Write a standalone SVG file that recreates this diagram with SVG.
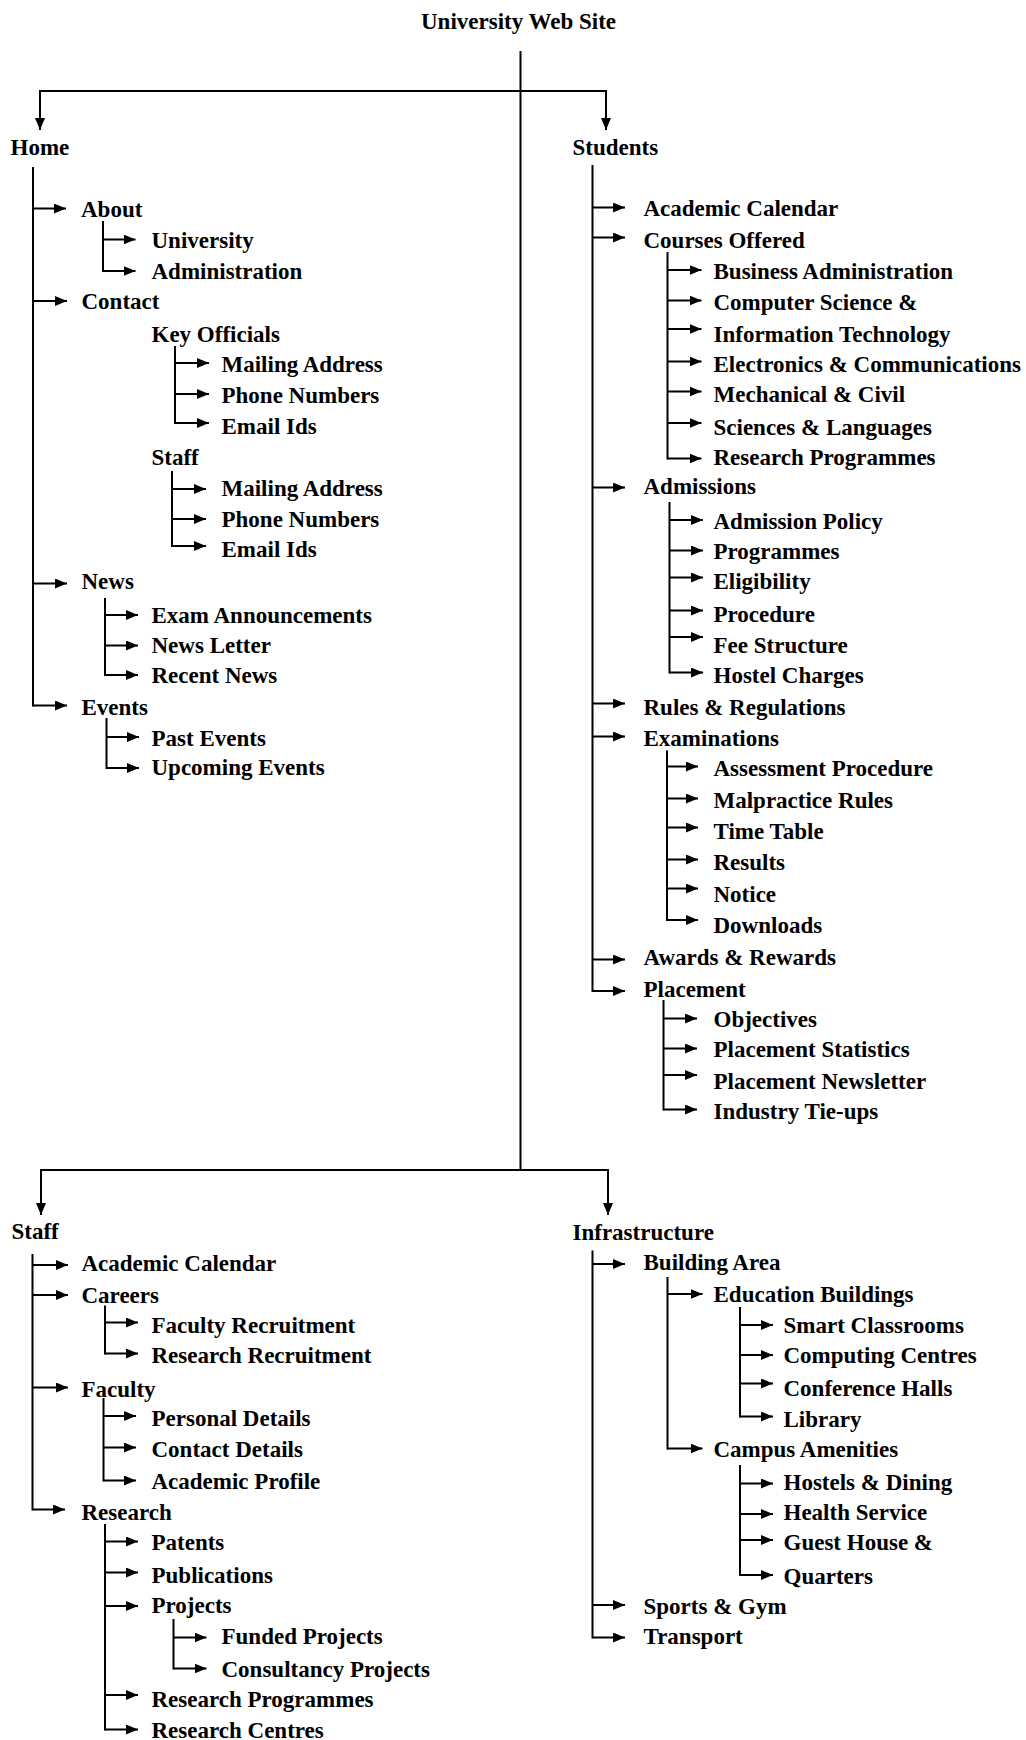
<svg xmlns="http://www.w3.org/2000/svg" width="1026" height="1740" viewBox="0 0 1026 1740">
<style>
.t{font-family:"Liberation Serif","Times New Roman",serif;font-weight:bold;font-size:23px;fill:#000}
#connectors path{stroke:#000;stroke-width:2;fill:none;stroke-linecap:square}
#connectors path.a{marker-end:url(#ah);stroke-linecap:butt}
</style>
<defs>
<marker id="ah" markerUnits="userSpaceOnUse" markerWidth="12" markerHeight="10" refX="12" refY="5" orient="auto">
<path d="M0,0 L12,5 L0,10 z" fill="#000"/>
</marker>
</defs>
<rect width="1026" height="1740" fill="#fff"/>
<g id="connectors">
<path d="M520.5 52V1170"/>
<path d="M40 91H606"/>
<path class="a" d="M40 91V130"/>
<path class="a" d="M606 91V130"/>
<path d="M41 1170H608"/>
<path class="a" d="M41 1170V1215"/>
<path class="a" d="M608 1170V1215"/>
<!-- Home -->
<path d="M33 168V705.5"/>
<path class="a" d="M33 208.5H66"/>
<path d="M103 222V271"/>
<path class="a" d="M103 239.5H135.5"/>
<path class="a" d="M103 271H135.5"/>
<path class="a" d="M33 301H67"/>
<path d="M175 347V423"/>
<path class="a" d="M175 363H209"/>
<path class="a" d="M175 394H209"/>
<path class="a" d="M175 423H209"/>
<path d="M172 472V546"/>
<path class="a" d="M172 489H206"/>
<path class="a" d="M172 519H206"/>
<path class="a" d="M172 546H206"/>
<path class="a" d="M33 583.5H67"/>
<path d="M105 599V675"/>
<path class="a" d="M105 615H138"/>
<path class="a" d="M105 645.5H138"/>
<path class="a" d="M105 675H138"/>
<path class="a" d="M33 705.5H67"/>
<path d="M106.5 719V768"/>
<path class="a" d="M106.5 737H139"/>
<path class="a" d="M106.5 768H139"/>
<!-- Students -->
<path d="M592.5 166V991"/>
<path class="a" d="M592.5 207.5H625"/>
<path class="a" d="M592.5 237.5H625"/>
<path d="M667.5 253V458.5"/>
<path class="a" d="M667.5 270H701.5"/>
<path class="a" d="M667.5 300.5H701.5"/>
<path class="a" d="M667.5 329H701.5"/>
<path class="a" d="M667.5 361.5H701.5"/>
<path class="a" d="M667.5 391.5H701.5"/>
<path class="a" d="M667.5 423H701.5"/>
<path class="a" d="M667.5 458.5H701.5"/>
<path class="a" d="M592.5 487.5H625"/>
<path d="M669.5 503V672.5"/>
<path class="a" d="M669.5 520H703"/>
<path class="a" d="M669.5 550.5H703"/>
<path class="a" d="M669.5 577.5H703"/>
<path class="a" d="M669.5 610.5H703"/>
<path class="a" d="M669.5 637H703"/>
<path class="a" d="M669.5 672.5H703"/>
<path class="a" d="M592.5 703.5H625"/>
<path class="a" d="M592.5 736.5H625"/>
<path d="M667 751.5V920"/>
<path class="a" d="M667 766.5H698"/>
<path class="a" d="M667 798.5H698"/>
<path class="a" d="M667 827.5H698"/>
<path class="a" d="M667 859.5H698"/>
<path class="a" d="M667 888.5H698"/>
<path class="a" d="M667 920H698"/>
<path class="a" d="M592.5 959.5H625"/>
<path class="a" d="M592.5 991H625"/>
<path d="M663.5 1001V1109.5"/>
<path class="a" d="M663.5 1018.5H697"/>
<path class="a" d="M663.5 1048.5H697"/>
<path class="a" d="M663.5 1075H697"/>
<path class="a" d="M663.5 1109.5H697"/>
<!-- Staff -->
<path d="M32.5 1255V1509.5"/>
<path class="a" d="M32.5 1265H68"/>
<path class="a" d="M32.5 1295H68"/>
<path d="M105 1306.5V1353.5"/>
<path class="a" d="M105 1322.5H138"/>
<path class="a" d="M105 1353.5H138"/>
<path class="a" d="M32.5 1387.5H68"/>
<path d="M103.5 1399V1480.5"/>
<path class="a" d="M103.5 1416H136"/>
<path class="a" d="M103.5 1447.5H136"/>
<path class="a" d="M103.5 1480.5H136"/>
<path class="a" d="M32.5 1509.5H65"/>
<path d="M105 1525V1729.5"/>
<path class="a" d="M105 1541.5H138"/>
<path class="a" d="M105 1572.5H138"/>
<path class="a" d="M105 1606H138"/>
<path d="M173.5 1620V1668.5"/>
<path class="a" d="M173.5 1637.5H206.5"/>
<path class="a" d="M173.5 1668.5H206.5"/>
<path class="a" d="M105 1695H138"/>
<path class="a" d="M105 1729.5H138"/>
<!-- Infrastructure -->
<path d="M592.5 1251.5V1637.5"/>
<path class="a" d="M592.5 1264H625"/>
<path d="M667.5 1278V1448.5"/>
<path class="a" d="M667.5 1294H702.5"/>
<path d="M740 1308V1416.5"/>
<path class="a" d="M740 1325H773"/>
<path class="a" d="M740 1355H773"/>
<path class="a" d="M740 1383.5H773"/>
<path class="a" d="M740 1416.5H773"/>
<path class="a" d="M667.5 1448.5H702.5"/>
<path d="M740 1466V1575"/>
<path class="a" d="M740 1483.5H773"/>
<path class="a" d="M740 1514H773"/>
<path class="a" d="M740 1540H773"/>
<path class="a" d="M740 1575H773"/>
<path class="a" d="M592.5 1605H625"/>
<path class="a" d="M592.5 1637.5H625"/>
</g>
<g id="root"><text class="t" x="421" y="29">University Web Site</text></g>
<g id="home"><text class="t" x="10.5" y="155">Home</text></g>
<g id="home-about"><text class="t" x="81" y="216.5">About</text></g>
<g id="about-university"><text class="t" x="151.5" y="248">University</text></g>
<g id="about-administration"><text class="t" x="151.5" y="278.5">Administration</text></g>
<g id="home-contact"><text class="t" x="81.5" y="309">Contact</text></g>
<g id="contact-key-officials"><text class="t" x="151.5" y="341.5">Key Officials</text></g>
<g id="ko-mailing"><text class="t" x="221.5" y="371.5">Mailing Address</text></g>
<g id="ko-phone"><text class="t" x="221.5" y="403">Phone Numbers</text></g>
<g id="ko-email"><text class="t" x="221.5" y="434">Email Ids</text></g>
<g id="contact-staff"><text class="t" x="151.5" y="465">Staff</text></g>
<g id="cs-mailing"><text class="t" x="221.5" y="496">Mailing Address</text></g>
<g id="cs-phone"><text class="t" x="221.5" y="527">Phone Numbers</text></g>
<g id="cs-email"><text class="t" x="221.5" y="557">Email Ids</text></g>
<g id="home-news"><text class="t" x="81.5" y="589">News</text></g>
<g id="news-exam"><text class="t" x="151.5" y="622.5">Exam Announcements</text></g>
<g id="news-letter"><text class="t" x="151.5" y="652.5">News Letter</text></g>
<g id="news-recent"><text class="t" x="151.5" y="682.5">Recent News</text></g>
<g id="home-events"><text class="t" x="81.5" y="715">Events</text></g>
<g id="events-past"><text class="t" x="151.5" y="746">Past Events</text></g>
<g id="events-upcoming"><text class="t" x="151.5" y="775">Upcoming Events</text></g>
<g id="students"><text class="t" x="572.5" y="155">Students</text></g>
<g id="st-calendar"><text class="t" x="643.5" y="216">Academic Calendar</text></g>
<g id="st-courses"><text class="t" x="643.5" y="248">Courses Offered</text></g>
<g id="co-business"><text class="t" x="713.5" y="279">Business Administration</text></g>
<g id="co-cs"><text class="t" x="713.5" y="309.5">Computer Science &amp;</text></g>
<g id="co-it"><text class="t" x="713.5" y="341.5">Information Technology</text></g>
<g id="co-ec"><text class="t" x="713.5" y="371.5">Electronics &amp; Communications</text></g>
<g id="co-mech"><text class="t" x="713.5" y="401.5">Mechanical &amp; Civil</text></g>
<g id="co-sci"><text class="t" x="713.5" y="435">Sciences &amp; Languages</text></g>
<g id="co-research"><text class="t" x="713.5" y="465">Research Programmes</text></g>
<g id="st-admissions"><text class="t" x="643.5" y="494">Admissions</text></g>
<g id="ad-policy"><text class="t" x="713.5" y="528.5">Admission Policy</text></g>
<g id="ad-programmes"><text class="t" x="713.5" y="558.5">Programmes</text></g>
<g id="ad-eligibility"><text class="t" x="713.5" y="589">Eligibility</text></g>
<g id="ad-procedure"><text class="t" x="713.5" y="621.5">Procedure</text></g>
<g id="ad-fee"><text class="t" x="713.5" y="652.5">Fee Structure</text></g>
<g id="ad-hostel"><text class="t" x="713.5" y="682.5">Hostel Charges</text></g>
<g id="st-rules"><text class="t" x="643.5" y="715">Rules &amp; Regulations</text></g>
<g id="st-exams"><text class="t" x="643.5" y="746">Examinations</text></g>
<g id="ex-assessment"><text class="t" x="713.5" y="776">Assessment Procedure</text></g>
<g id="ex-malpractice"><text class="t" x="713.5" y="808">Malpractice Rules</text></g>
<g id="ex-timetable"><text class="t" x="713.5" y="839">Time Table</text></g>
<g id="ex-results"><text class="t" x="713.5" y="869.5">Results</text></g>
<g id="ex-notice"><text class="t" x="713.5" y="901.5">Notice</text></g>
<g id="ex-downloads"><text class="t" x="713.5" y="932.5">Downloads</text></g>
<g id="st-awards"><text class="t" x="643.5" y="965">Awards &amp; Rewards</text></g>
<g id="st-placement"><text class="t" x="643.5" y="996.5">Placement</text></g>
<g id="pl-objectives"><text class="t" x="713.5" y="1026.5">Objectives</text></g>
<g id="pl-statistics"><text class="t" x="713.5" y="1056.5">Placement Statistics</text></g>
<g id="pl-newsletter"><text class="t" x="713.5" y="1089">Placement Newsletter</text></g>
<g id="pl-industry"><text class="t" x="713.5" y="1119">Industry Tie-ups</text></g>
<g id="staff"><text class="t" x="11.5" y="1239">Staff</text></g>
<g id="sf-calendar"><text class="t" x="81.5" y="1270.5">Academic Calendar</text></g>
<g id="sf-careers"><text class="t" x="81.5" y="1302.5">Careers</text></g>
<g id="ca-faculty"><text class="t" x="151.5" y="1332.5">Faculty Recruitment</text></g>
<g id="ca-research"><text class="t" x="151.5" y="1363">Research Recruitment</text></g>
<g id="sf-faculty"><text class="t" x="81.5" y="1396.5">Faculty</text></g>
<g id="fa-personal"><text class="t" x="151.5" y="1426">Personal Details</text></g>
<g id="fa-contact"><text class="t" x="151.5" y="1457">Contact Details</text></g>
<g id="fa-profile"><text class="t" x="151.5" y="1489">Academic Profile</text></g>
<g id="sf-research"><text class="t" x="81.5" y="1520">Research</text></g>
<g id="re-patents"><text class="t" x="151.5" y="1550">Patents</text></g>
<g id="re-publications"><text class="t" x="151.5" y="1583">Publications</text></g>
<g id="re-projects"><text class="t" x="151.5" y="1612.5">Projects</text></g>
<g id="pr-funded"><text class="t" x="221.5" y="1643.5">Funded Projects</text></g>
<g id="pr-consultancy"><text class="t" x="221.5" y="1676.5">Consultancy Projects</text></g>
<g id="re-programmes"><text class="t" x="151.5" y="1706.5">Research Programmes</text></g>
<g id="re-centres"><text class="t" x="151.5" y="1738">Research Centres</text></g>
<g id="infrastructure"><text class="t" x="572.5" y="1240">Infrastructure</text></g>
<g id="in-building"><text class="t" x="643.5" y="1270">Building Area</text></g>
<g id="bu-education"><text class="t" x="713.5" y="1301.5">Education Buildings</text></g>
<g id="ed-smart"><text class="t" x="783.5" y="1333">Smart Classrooms</text></g>
<g id="ed-computing"><text class="t" x="783.5" y="1363">Computing Centres</text></g>
<g id="ed-conference"><text class="t" x="783.5" y="1396">Conference Halls</text></g>
<g id="ed-library"><text class="t" x="783.5" y="1426.5">Library</text></g>
<g id="bu-campus"><text class="t" x="713.5" y="1456.5">Campus Amenities</text></g>
<g id="cp-hostels"><text class="t" x="783.5" y="1490">Hostels &amp; Dining</text></g>
<g id="cp-health"><text class="t" x="783.5" y="1520">Health Service</text></g>
<g id="cp-guest"><text class="t" x="783.5" y="1550">Guest House &amp;</text></g>
<g id="cp-quarters"><text class="t" x="783.5" y="1583.5">Quarters</text></g>
<g id="in-sports"><text class="t" x="643.5" y="1613.5">Sports &amp; Gym</text></g>
<g id="in-transport"><text class="t" x="643.5" y="1643.5">Transport</text></g>
</svg>
